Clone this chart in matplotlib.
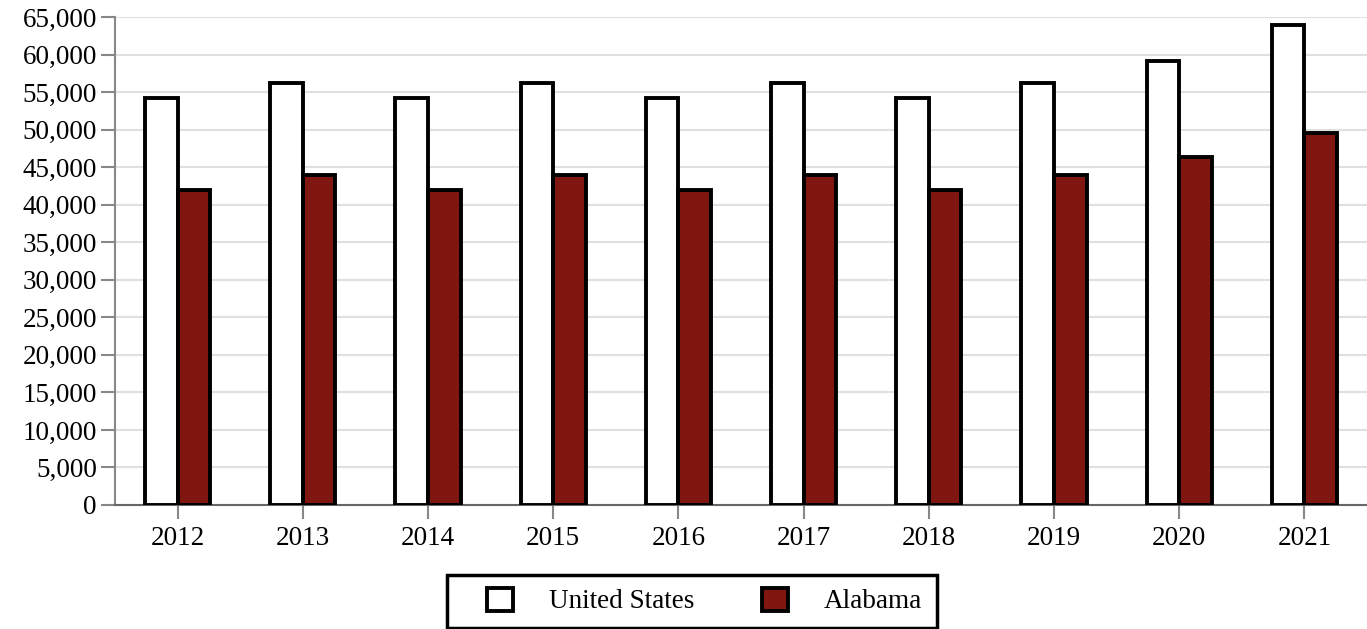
import matplotlib.pyplot as plt
import matplotlib.patches as mpatches
import numpy as np

plt.rcParams['font.family'] = ['Liberation Serif', 'DejaVu Serif']

years = ['2012', '2013', '2014', '2015', '2016', '2017', '2018', '2019', '2020', '2021']
united_states = [54250, 56200, 54250, 56200, 54250, 56200, 54250, 56200, 59100, 63900]
alabama = [42000, 43950, 42000, 43950, 42000, 43950, 42000, 43950, 46400, 49500]

fig = plt.figure(figsize=(13.67, 6.29), dpi=100)
ax = fig.add_axes([115 / 1367, 1 - 505 / 629, 1252 / 1367, 488 / 629])

x = np.arange(len(years))
w = 0.26
ax.bar(x - w / 2, united_states, w, color='white', edgecolor='black', linewidth=2.8,
       label='United States', zorder=3)
ax.bar(x + w / 2, alabama, w, color='#7f1710', edgecolor='black', linewidth=2.8,
       label='Alabama', zorder=3)

ax.set_xlim(-0.5, len(years) - 0.5)
ax.set_ylim(0, 65000)
ax.set_yticks(range(0, 65001, 5000))
ax.set_yticklabels(['{:,}'.format(v) for v in range(0, 65001, 5000)])
ax.set_xticks(x)
ax.set_xticklabels(years)
ax.grid(True, axis='y', color='#e0e0e0', linewidth=1.5, zorder=0)

for s in ['top', 'right']:
    ax.spines[s].set_visible(False)
ax.spines['left'].set_color('#888888')
ax.spines['left'].set_linewidth(1.5)
ax.spines['bottom'].set_color('#666666')
ax.spines['bottom'].set_linewidth(1.5)
ax.tick_params(axis='y', labelsize=19.5, length=10, color='#888888', width=1.5, pad=3)
ax.tick_params(axis='x', labelsize=19.5, length=10, color='#888888', width=1.5, pad=5)

# legend without its own frame, box drawn separately
leg = ax.legend(loc='center left', ncol=2, fontsize=19.5, frameon=False,
                handlelength=0.95, handleheight=0.95, columnspacing=2.5, handletextpad=1.33,
                borderpad=0, borderaxespad=0)
leg.set_bbox_to_anchor((487 / 1367, 1 - 601 / 629), transform=fig.transFigure)
box = mpatches.Rectangle((447 / 1367, 1 - 628 / 629), (937 - 447) / 1367, 53 / 629,
                         transform=fig.transFigure, fill=False, edgecolor='black',
                         linewidth=2.5)
fig.patches.append(box)

fig.savefig('out.png', dpi=100)
